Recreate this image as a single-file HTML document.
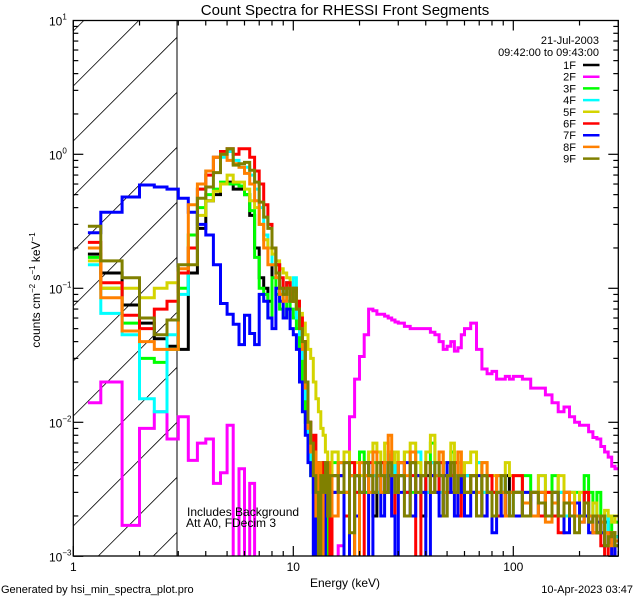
<!DOCTYPE html>
<html><head><meta charset="utf-8"><style>
html,body{margin:0;padding:0;background:#fff;width:640px;height:600px;overflow:hidden;}
svg{display:block;font-family:"Liberation Sans",sans-serif;}
</style></head><body>
<svg id="chart" width="640" height="600" viewBox="0 0 640 600" xmlns="http://www.w3.org/2000/svg" overflow="hidden">
<defs><clipPath id="plotclip"><rect x="73.3" y="20.5" width="545" height="535.5"/></clipPath></defs>
<rect width="640" height="600" fill="#fff"/>
<text x="345" y="15" font-size="15" text-anchor="middle">Count Spectra for RHESSI Front Segments</text>
<g id="hatch"></g>
<line x1="177" y1="20.5" x2="177" y2="556" stroke="#000" stroke-width="1"/>
<g id="series" clip-path="url(#plotclip)"></g>
<rect x="73.3" y="20.5" width="545" height="535.5" fill="none" stroke="#000" stroke-width="1.3"/>
<g id="axes"></g>
<text x="345" y="587" font-size="12" text-anchor="middle">Energy (keV)</text>
<text transform="translate(40,290) rotate(-90)" font-size="12" text-anchor="middle">counts cm<tspan font-size="8" dy="-5">−2</tspan><tspan dy="5"> s</tspan><tspan font-size="8" dy="-5">−1</tspan><tspan dy="5"> keV</tspan><tspan font-size="8" dy="-5">−1</tspan></text>
<text x="599" y="44" font-size="11" text-anchor="end">21-Jul-2003</text>
<text x="599" y="56" font-size="11" text-anchor="end">09:42:00 to 09:43:00</text>
<g id="legend"></g>
<text x="187" y="516" font-size="12">Includes Background</text>
<text x="186" y="527" font-size="12">Att A0, FDecim 3</text>
<text x="1" y="593" font-size="11">Generated by hsi_min_spectra_plot.pro</text>
<text x="633" y="593" font-size="11" text-anchor="end">10-Apr-2023 03:47</text>
</svg>
<script>
const labels=["1F","2F","3F","4F","5F","6F","7F","8F","9F"];
const colors=["#000000","#ff00ff","#00ff00","#00ffff","#d4d400","#ff0000","#0000ff","#ff8000","#808000"];
const xTicks=[1,10,100];
const yTicks=[0.001,0.01,0.1,1,10];
const yTickExp=["−3","−2","−1","0","1"];
const s1F=[.18,.13,.075,.055,.042,.037,.035,.13,.28,.45,.5,.6,.62,.55,.55,.5,.35,.2,.12,.1,.08,
.2,.15,.1,.09,.11,.08,.09,.07,.05,.04,.018,.01,.006,
.004,.002,.0006,.005,.003,.004,.002,.003,
.004,.005,.003,.0006,.004,.003,.005,.004,.002,.004,.003,.004,.006,.004,.003,
.004,.003,.005,.004,.002,.004,.005,.003,.004,.002,.004,.005,.003,.004,.003,
.004,.003,.002,.004,.003,.003,.002,.003,.004,.003,
.003,.002,.003,.003,.002,.003,.002,.003,.002,.0025,.002,.003,.0018,.002,.0015,.002,.0018,.0012,.0015,.0014];
const s2F=[.014,.02,.0017,.009,.012,.0075,.011,.0052,.007,.0075,.0035,.0042,.0095,.0005,.0045,.0005,.0035,.0005,.0005,.0005,.0005,
.0005,.0005,.0005,.0005,.0005,.0005,.0005,.0005,.0005,.0005,.0005,.0005,.0005,
.0005,.0005,.0005,.0005,.0005,.0005,.0005,.0005,
.0008,.0012,.005,.011,.021,.031,.045,.07,.068,.064,.064,.062,.06,.058,.056,
.055,.052,.05,.05,.05,.05,.047,.045,.04,.035,.037,.04,.034,.036,.045,
.05,.055,.035,.025,.023,.024,.021,.021,.022,.021,
.022,.021,.018,.018,.016,.014,.012,.013,.011,.01,.0095,.0095,.0085,.0077,.0075,.0066,.006,.0055,.0047,.0045];
const s3F=[.17,.1,.055,.03,.028,.035,.1,.25,.4,.5,.55,.62,.6,.6,.58,.5,.38,.17,.1,.09,.06,
.12,.09,.07,.06,.08,.07,.06,.05,.03,.02,.01,.006,.004,
.003,.0006,.004,.002,.005,.0008,.004,.003,
.005,.004,.003,.005,.004,.006,.003,.004,.005,.003,.004,.005,.006,.004,.005,
.004,.006,.003,.005,.004,.003,.007,.004,.005,.003,.004,.006,.004,.003,.004,
.003,.004,.005,.003,.004,.003,.004,.003,.002,.003,
.003,.004,.003,.002,.003,.004,.003,.002,.003,.003,.002,.004,.003,.002,.003,.002,.002,.0015,.002,.0018];
const s4F=[.15,.065,.045,.015,.012,.045,.09,.2,.55,.75,.95,.95,1.05,.9,.8,.8,.7,.55,.4,.25,.2,
.15,.12,.1,.08,.11,.09,.12,.06,.045,.03,.015,.008,.005,
.006,.003,.005,.002,.004,.005,.003,.004,
.003,.005,.006,.004,.003,.005,.004,.006,.004,.003,.005,.004,.003,.005,.004,
.005,.003,.004,.006,.004,.003,.005,.004,.003,.005,.004,.003,.004,.005,.003,
.004,.003,.005,.003,.004,.003,.003,.004,.003,.002,
.003,.0025,.003,.004,.002,.003,.003,.002,.003,.0025,.002,.003,.002,.0025,.002,.0018,.002,.0015,.0012,.0014];
const s5F=[.16,.1,.1,.085,.1,.11,.13,.2,.35,.45,.53,.6,.7,.62,.62,.55,.45,.4,.3,.23,.2,
.18,.16,.14,.13,.12,.1,.09,.08,.065,.055,.045,.035,.03,
.02,.015,.012,.009,.008,.006,.005,.004,
.006,.003,.006,.004,.005,.004,.005,.006,.007,.006,.005,.007,.006,.005,.006,
.005,.006,.007,.005,.004,.006,.008,.005,.006,.005,.004,.007,.005,.006,.004,
.005,.006,.004,.005,.004,.004,.003,.004,.005,.004,
.004,.003,.003,.004,.003,.003,.004,.003,.003,.002,.003,.003,.002,.0025,.002,.002,.0022,.002,.0018,.002];
const s6F=[.22,.11,.063,.05,.07,.08,.13,.2,.55,.7,.95,1.05,1.1,1.0,1.1,1.1,.95,.75,.6,.42,.3,
.2,.15,.12,.1,.11,.09,.1,.08,.06,.04,.02,.01,.006,
.008,.005,.004,.0007,.005,.003,.004,.0006,
.003,.004,.002,.005,.003,.0006,.004,.005,.003,.004,.005,.003,.004,.002,.004,
.005,.003,.004,.0008,.003,.005,.004,.003,.005,.004,.003,.004,.005,.002,.004,
.003,.004,.003,.002,.004,.003,.002,.003,.002,.003,
.004,.002,.003,.002,.003,.002,.0015,.003,.002,.0025,.002,.003,.002,.0015,.002,.0012,.0008,.0015,.001,.0012];
const s7F=[.26,.37,.48,.59,.57,.55,.47,.37,.3,.25,.15,.077,.064,.054,.038,.063,.046,.038,.09,.08,.06,
.05,.1,.08,.06,.07,.05,.045,.035,.02,.012,.008,.005,.004,
.0007,.005,.003,.004,.0009,.003,.004,.002,
.003,.004,.0006,.004,.002,.003,.005,.0008,.003,.004,.002,.003,.004,.002,.0007,
.003,.005,.002,.004,.003,.0009,.004,.003,.002,.004,.005,.003,.002,.004,.003,
.002,.003,.004,.002,.003,.0015,.003,.002,.003,.002,
.002,.003,.002,.0025,.002,.003,.002,.0015,.002,.0025,.0018,.002,.0015,.002,.0018,.0015,.0012,.0014,.001,.0013];
const s8F=[.2,.085,.048,.04,.035,.035,.14,.42,.6,.75,.95,1.0,.9,.85,.8,.72,.6,.45,.3,.2,.15,
.15,.12,.09,.08,.1,.08,.09,.07,.05,.035,.018,.009,.006,
.006,.002,.005,.0008,.004,.003,.005,.004,
.002,.005,.003,.004,.0009,.005,.004,.003,.006,.004,.003,.005,.008,.004,.003,
.005,.004,.006,.003,.004,.005,.003,.004,.006,.003,.004,.005,.003,.006,.004,
.003,.004,.003,.005,.003,.002,.004,.003,.002,.003,
.003,.0025,.002,.003,.0018,.0025,.002,.003,.0025,.002,.0018,.0025,.002,.0015,.002,.0018,.0015,.0012,.0015,.0013];
const s9F=[.29,.16,.12,.06,.045,.058,.15,.15,.47,.57,.73,1.0,1.1,.83,.85,.87,.76,.62,.44,.34,.28,
.2,.13,.1,.09,.1,.08,.1,.07,.05,.04,.02,.01,.007,
.004,.003,.0008,.004,.003,.005,.002,.004,
.004,.003,.005,.0015,.004,.003,.005,.004,.003,.005,.004,.003,.005,.004,.003,
.004,.002,.005,.003,.004,.005,.003,.005,.004,.002,.004,.005,.003,.004,.004,
.003,.004,.002,.004,.003,.002,.003,.004,.003,.002,
.003,.002,.003,.0025,.002,.003,.002,.0025,.002,.0015,.002,.0025,.0018,.002,.0015,.002,.0012,.0014,.0015,.0012];
const seriesValues=[s1F,s2F,s3F,s4F,s5F,s6F,s7F,s8F,s9F];

const edges=[1.165];
for(let k=0;k<=41;k++)edges.push(1+(k+1)/3);
for(let e=16;e<=30;e++)edges.push(e);
for(let e=32;e<=60;e+=2)edges.push(e);
for(let e=64;e<=100;e+=4)edges.push(e);
for(let e=110;e<=300;e+=10)edges.push(e);

const X0=73.3,XD=220,Y0=154.3,YD=134,TOP=20.5,BOT=556,RIGHT=618.3,HX=177;
function xs(e){return X0+XD*Math.log10(e);}
function ys(v){return Y0-YD*Math.log10(v);}
const NS="http://www.w3.org/2000/svg";
function mk(tag,attrs,parent){const el=document.createElementNS(NS,tag);for(const k in attrs)el.setAttribute(k,attrs[k]);parent.appendChild(el);return el;}

// hatching: y = c - (x - X0), clipped analytically to hatch box
const hg=document.getElementById('hatch');
for(let c=31;c<700;c+=55){
  let xa=X0, ya=c;
  if(ya>BOT){xa=X0+(ya-BOT);ya=BOT;}
  let xb=HX, yb=c-(HX-X0);
  if(yb<TOP){xb=X0+(c-TOP);yb=TOP;}
  if(xa>=xb||xa>HX)continue;
  const ln=mk('line',{x1:xa,y1:ya,x2:xb,y2:yb,stroke:'#000','stroke-width':0.8},hg);
  
  
}

const sg=document.getElementById('series');
seriesValues.forEach((vals,si)=>{
  let d='';
  const n=Math.min(vals.length,edges.length-1);
  for(let i=0;i<n;i++){
    const y=Math.min(BOT+3,Math.max(TOP-3,ys(Math.max(vals[i],1e-5)))).toFixed(1);
    d+=(i===0?'M':'L')+xs(edges[i]).toFixed(1)+','+y+'L'+xs(edges[i+1]).toFixed(1)+','+y;
  }
  const p=mk('path',{d:d,fill:'none',stroke:colors[si],'stroke-width':3,'stroke-linejoin':'miter'},sg);
  
  
});

const ag=document.getElementById('axes');
for(let dec=0;dec<3;dec++){
  for(let m=1;m<=9;m++){
    const e=m*Math.pow(10,dec); if(e>300)break;
    const x=xs(e); const len=m===1?10:5;
    const t1=mk('line',{x1:x,y1:BOT,x2:x,y2:BOT-len,stroke:'#000','stroke-width':1.2},ag);
    
    
    const t2=mk('line',{x1:x,y1:TOP,x2:x,y2:TOP+len,stroke:'#000','stroke-width':1.2},ag);
    
    
  }
}
xTicks.forEach(v=>{
  const t=mk('text',{x:xs(v),y:571,'font-size':12,'text-anchor':'middle'},ag);
  t.textContent=String(v);
  
  
});
for(let dec=-3;dec<1;dec++){
  for(let m=1;m<=9;m++){
    const v=m*Math.pow(10,dec); const y=ys(v); const len=m===1?10:5;
    const t1=mk('line',{x1:X0,y1:y,x2:X0+len,y2:y,stroke:'#000','stroke-width':1.2},ag);
    
    
    const t2=mk('line',{x1:RIGHT,y1:y,x2:RIGHT-len,y2:y,stroke:'#000','stroke-width':1.2},ag);
    
    
  }
}
yTicks.forEach((v,i)=>{
  const y=ys(v);
  const t=mk('text',{x:49,y:y+5,'font-size':12},ag);
  t.innerHTML='10<tspan font-size="8" dy="-6">'+yTickExp[i]+'</tspan>';
  
  
});

const lg=document.getElementById('legend');
labels.forEach((lab,i)=>{
  const y=65+11.7*i;
  const t=mk('text',{x:576,y:y+4,'font-size':11,'text-anchor':'end'},lg);
  t.textContent=lab;
  
  
  const l=mk('line',{x1:583,y1:y,x2:599.5,y2:y,stroke:colors[i],'stroke-width':2.5},lg);
  
  
});
</script>
</body></html>
